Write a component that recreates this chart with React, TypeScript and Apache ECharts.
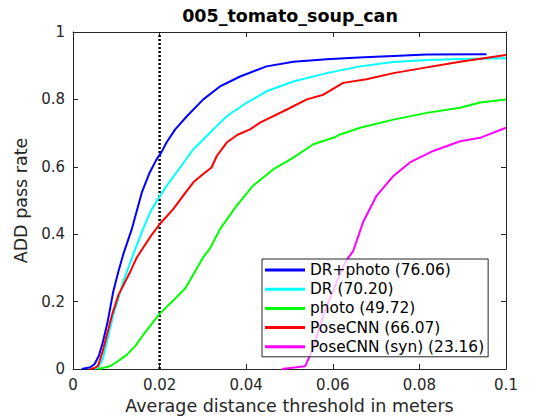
import React, { useEffect, useRef } from "react";
import * as echarts from "echarts";

const titleText = "005_tomato_soup_can";
const xName = "Average distance threshold in meters";
const yName = "ADD pass rate";
const thresholdX = 0.02;

const seriesNames = [
  "DR+photo (76.06)",
  "DR (70.20)",
  "photo (49.72)",
  "PoseCNN (66.07)",
  "PoseCNN (syn) (23.16)",
];
const seriesColors = ["#0000ff", "#00ffff", "#00ff00", "#ff0000", "#ff00ff"];

const drPhoto: [number, number][] = [
  [0.002, 0], [0.004, 0.005], [0.005, 0.015], [0.006, 0.04], [0.0069, 0.08],
  [0.008, 0.14], [0.0093, 0.23], [0.0105, 0.29], [0.0116, 0.34], [0.0136, 0.416],
  [0.0159, 0.524], [0.0176, 0.58], [0.0193, 0.622], [0.0205, 0.645], [0.0216, 0.672],
  [0.0236, 0.711], [0.0263, 0.75], [0.0301, 0.8], [0.034, 0.839], [0.0386, 0.868],
  [0.0447, 0.898], [0.0509, 0.912], [0.0586, 0.919], [0.066, 0.924], [0.074, 0.929],
  [0.0817, 0.933], [0.0955, 0.934],
];
const dr: [number, number][] = [
  [0.005, 0], [0.0058, 0.005], [0.0065, 0.02], [0.007, 0.035], [0.008, 0.09],
  [0.0093, 0.16], [0.0105, 0.21], [0.0116, 0.259], [0.01355, 0.327], [0.0148, 0.37],
  [0.0162, 0.416], [0.018, 0.47], [0.0201, 0.514], [0.022, 0.55], [0.0239, 0.583],
  [0.0278, 0.652], [0.0301, 0.681], [0.0324, 0.711], [0.0355, 0.75], [0.0401, 0.79],
  [0.0447, 0.824], [0.0509, 0.853], [0.0586, 0.878], [0.0663, 0.898], [0.074, 0.911],
  [0.0817, 0.917], [0.0894, 0.92], [0.1, 0.922],
];
const photo: [number, number][] = [
  [0.0058, 0], [0.0085, 0.008], [0.01, 0.02], [0.0124, 0.042], [0.0145, 0.07],
  [0.0162, 0.101], [0.0201, 0.165], [0.0232, 0.204], [0.0259, 0.239], [0.0286, 0.298],
  [0.0301, 0.332], [0.0316, 0.357], [0.034, 0.416], [0.0378, 0.485], [0.0416, 0.544],
  [0.0463, 0.593], [0.0509, 0.627], [0.0555, 0.667], [0.0601, 0.686], [0.0617, 0.696],
  [0.0663, 0.716], [0.074, 0.74], [0.0817, 0.76], [0.0894, 0.775], [0.094, 0.791],
  [0.1, 0.8],
];
const poseCnn: [number, number][] = [
  [0.0039, 0], [0.005, 0.003], [0.0058, 0.01], [0.0068, 0.05], [0.0078, 0.1],
  [0.009, 0.16], [0.0105, 0.22], [0.0132, 0.288], [0.0147, 0.33], [0.0162, 0.36],
  [0.018, 0.395], [0.0201, 0.431], [0.0232, 0.475], [0.0255, 0.515], [0.0278, 0.554],
  [0.03, 0.578], [0.032, 0.598], [0.0332, 0.632], [0.0355, 0.672], [0.038, 0.695],
  [0.0409, 0.711], [0.0432, 0.731], [0.0494, 0.77], [0.054, 0.8], [0.0578, 0.814],
  [0.0624, 0.849], [0.0678, 0.86], [0.074, 0.878], [0.0817, 0.895], [0.0894, 0.912],
  [0.1, 0.932],
];
const poseCnnSyn: [number, number][] = [
  [0.0482, 0], [0.0536, 0.008], [0.0555, 0.062], [0.0578, 0.16], [0.0609, 0.259],
  [0.063, 0.32], [0.0647, 0.35], [0.067, 0.436], [0.0701, 0.514], [0.074, 0.573],
  [0.0778, 0.613], [0.0832, 0.647], [0.0894, 0.676], [0.094, 0.686], [0.1, 0.716],
];

const seriesData = [drPhoto, dr, photo, poseCnn, poseCnnSyn];

const FONT = "DejaVu Sans";
const AX = "#262626";

const fmt = (v: number) => String(Math.round(v * 100) / 100);

export default function App() {
  const ref = useRef<HTMLDivElement>(null);
  useEffect(() => {
    document.body.style.margin = "0";
    if (!ref.current) return;
    const chart = echarts.init(ref.current, null, { renderer: "svg" });
    const axisCommon = {
      type: "value" as const,
      min: 0,
      splitLine: { show: false },
      axisLine: { show: true, onZero: false, lineStyle: { color: AX, width: 1 } },
      axisTick: { show: true, inside: true, length: 5, lineStyle: { color: AX } },
    };
    chart.setOption({
      animation: false,
      backgroundColor: "#ffffff",
      title: {
        text: titleText,
        left: 290,
        top: 7,
        padding: 0,
        textAlign: "center",
        textStyle: { fontFamily: FONT, fontSize: 17.5, fontWeight: "bold", color: "#000" },
      },
      grid: { left: 73, right: 54, top: 32, bottom: 49, containLabel: false },
      legend: {
        orient: "vertical",
        left: 262,
        top: 259,
        padding: [3, 4, 2, 3],
        itemWidth: 40,
        itemHeight: 3,
        itemGap: 3.2,
        icon: "rect",
        borderColor: AX,
        borderWidth: 1,
        backgroundColor: "rgba(255,255,255,0.75)",
        data: seriesNames,
        textStyle: { fontFamily: FONT, fontSize: 15.4, color: "#000", lineHeight: 16 },
      },
      xAxis: [
        {
          ...axisCommon,
          max: 0.1,
          interval: 0.02,
          position: "bottom",
          name: xName,
          nameLocation: "middle",
          nameGap: 28,
          nameTextStyle: { fontFamily: FONT, fontSize: 17.5, color: AX },
          axisLabel: { formatter: fmt, margin: 8, fontFamily: FONT, fontSize: 15, color: AX },
        },
        {
          ...axisCommon,
          max: 0.1,
          interval: 0.02,
          position: "top",
          axisLabel: { show: false },
        },
      ],
      yAxis: [
        {
          ...axisCommon,
          max: 1,
          interval: 0.2,
          position: "left",
          name: yName,
          nameLocation: "middle",
          nameGap: 35,
          nameTextStyle: { fontFamily: FONT, fontSize: 17.5, color: AX },
          axisLabel: { formatter: fmt, margin: 8, fontFamily: FONT, fontSize: 15, color: AX },
        },
        {
          ...axisCommon,
          max: 1,
          interval: 0.2,
          position: "right",
          axisLabel: { show: false },
        },
      ],
      series: [
        ...seriesData.map((d, i) => ({
          type: "line",
          name: seriesNames[i],
          data: d,
          showSymbol: false,
          symbol: "none",
          color: seriesColors[i],
          lineStyle: { color: seriesColors[i], width: 2 },
          z: 3,
        })),
        {
          type: "line",
          name: "threshold",
          data: [
            [thresholdX, 0],
            [thresholdX, 1],
          ],
          showSymbol: false,
          symbol: "none",
          lineStyle: { color: "#000", width: 2.5, type: [2, 2] },
          z: 2,
        },
      ],
    });
    return () => chart.dispose();
  }, []);
  return <div ref={ref} style={{ width: 560, height: 420 }} />;
}
